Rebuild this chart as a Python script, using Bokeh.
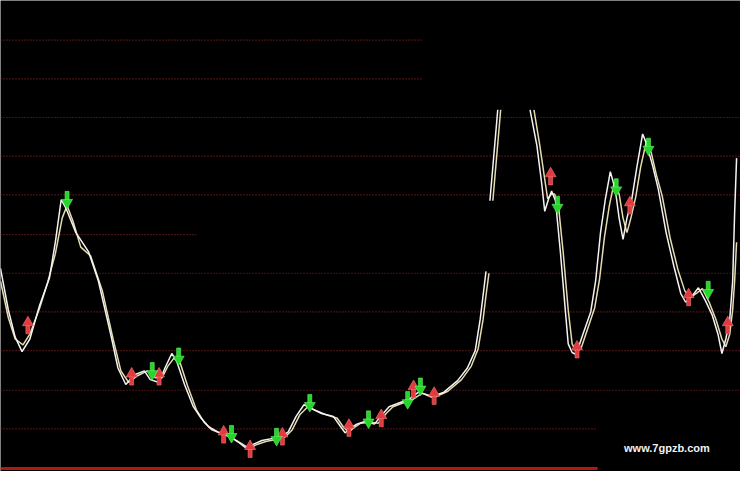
from bokeh.plotting import figure
from bokeh.models import Range1d
from bokeh.embed import file_html
from bokeh.resources import INLINE
from bokeh.core.properties import value

nan = float("nan")

# fast (white) line
white_x = [0, 8, 15, 22, 30, 40, 50, 56, 62, 67, 77, 90, 100, 113, 120, 128, 137, 147, 153, 162,
           168, 175, 180, 188, 197, 205, 213, 222, 232, 242, 250, 258, 267, 277, 287, 294, 302, 310,
           318, 328, 340, 347, 352, 358, 364, 373, 382, 390, 397, 405, 418, 427, 433, 440, 453, 467,
           477, 485, 490, 493, 496, 498, 500, 508, 520, 541, 548, 553, 556, 560, 563, 567, 572, 577,
           580, 584, 588, 595, 603, 608, 613, 618, 623, 628, 632, 636, 640, 645, 650, 656, 660, 666,
           672, 680, 688, 695, 700, 707, 713, 720, 727, 733, 737, 741, 745, 748, 750, 752]
white_y = [210, 167, 139, 124, 137, 172, 200, 237, 281, 272, 247, 227, 197, 140, 107, 90, 100, 104, 95, 92,
           107, 122, 114, 90, 67, 55, 46, 41, 38, 31, 25, 28, 32, 34, 36, 41, 57, 69,
           65, 60, 57, 47, 40, 45, 49, 52, 49, 59, 67, 70, 75, 82, 80, 77, 82, 94,
           107, 125, 157, 182, 207, nan, 280, 374, nan, 374, 337, 297, 269, 282, 290, 280, 227, 167,
           132, 123, 121, 142, 165, 197, 247, 282, 310, 292, 262, 240, 262, 282, 314, 349, 339, 317,
           292, 247, 212, 184, 175, 182, 190, 177, 162, 142, 122, 137, 157, 197, 267, 324]

# slow (yellow) line
yellow_x = [0, 8, 15, 23, 30, 40, 48, 56, 63, 68, 74, 82, 92, 104, 115, 123, 131, 140, 150, 158,
            165, 171, 177, 183, 191, 200, 208, 216, 226, 236, 246, 254, 262, 271, 281, 291, 298, 306,
            314, 322, 332, 344, 351, 356, 362, 368, 377, 386, 394, 401, 409, 422, 431, 437, 444, 457,
            471, 481, 488, 493, 496, 499, 501, 503, 511, 525, 545, 551, 556, 559, 563, 566, 570, 575,
            580, 584, 588, 593, 599, 607, 612, 617, 622, 627, 632, 636, 640, 644, 649, 654, 660, 665,
            670, 676, 684, 692, 699, 705, 712, 717, 724, 731, 737, 741, 745, 748, 750, 752]
yellow_y = [197, 159, 137, 131, 142, 169, 195, 225, 262, 275, 259, 232, 223, 187, 137, 104, 92, 99, 104, 97,
            97, 109, 117, 114, 89, 64, 51, 43, 39, 35, 29, 24, 28, 31, 33, 36, 43, 59,
            67, 63, 59, 55, 45, 41, 46, 50, 51, 50, 60, 67, 70, 75, 81, 79, 77, 83,
            95, 109, 127, 157, 182, 205, nan, 280, 374, nan, 374, 337, 302, 282, 287, 287, 275, 225,
            167, 132, 124, 127, 145, 169, 199, 242, 275, 299, 287, 262, 247, 262, 284, 315, 342, 329,
            307, 285, 242, 209, 187, 180, 185, 189, 175, 157, 137, 129, 142, 167, 197, 237]

# buy (red up) and sell (green down) signals
buy_x = [28, 134, 162, 228, 255, 288, 356, 389, 422, 443, 562, 589, 643, 703, 743]
buy_y = [150, 97, 97, 37, 22, 35, 44, 54, 84, 77, 304, 125, 274, 179, 150]
sell_x = [68, 155, 182, 236, 282, 316, 376, 416, 429, 569, 629, 662, 723]
sell_y = [282, 105, 120, 40, 37, 72, 55, 75, 89, 277, 295, 337, 189]

# dotted guide levels and how far they run
grid_levels = [446, 406, 366, 326, 286, 245, 205, 165, 125, 84, 44]
grid_ends = [430, 430, 756, 756, 756, 200, 756, 756, 756, 756, 610]

p = figure(width=740, height=471, output_backend="svg", toolbar_location=None,
           x_range=Range1d(0, 756), y_range=Range1d(0, 487),
           background_fill_color="black", border_fill_color="black",
           min_border=0, outline_line_color=None)
p.axis.visible = False
p.grid.visible = False

p.segment(x0=[0] * len(grid_levels), y0=grid_levels, x1=grid_ends, y1=grid_levels,
          line_color="#8a2626", line_width=1.2, line_dash="1 2")
p.segment(x0=[0], y0=[3], x1=[610], y1=[3], line_color="#b01818", line_width=3)

p.line(yellow_x, yellow_y, line_color="#e6dcae", line_width=1.5)
p.line(white_x, white_y, line_color="#f4f4f4", line_width=1.5)

# red up arrows: shaft + head
p.rect([x for x in buy_x], [y - 3 for y in buy_y], width=4, height=9,
       width_units="screen", height_units="screen", fill_color="#e23a3e", line_color="#f07a7a", line_width=0.6)
p.scatter([x for x in buy_x], [y + 4 for y in buy_y], marker="triangle", size=11,
          fill_color="#e23a3e", line_color="#f07a7a", line_width=0.6)
# green down arrows
p.rect([x for x in sell_x], [y + 3 for y in sell_y], width=4, height=9,
       width_units="screen", height_units="screen", fill_color="#26d52a", line_color="#6cf06c", line_width=0.6)
p.scatter([x for x in sell_x], [y - 4 for y in sell_y], marker="inverted_triangle", size=11,
          fill_color="#26d52a", line_color="#6cf06c", line_width=0.6)

p.text(x=[637], y=[24], text=["www.7gpzb.com"], text_color="#f2f2f2",
       text_font=value("Liberation Sans"), text_font_style="bold", text_font_size="11px",
       text_baseline="middle", text_align="left")

open("out.html", "w").write(file_html(p, INLINE))
